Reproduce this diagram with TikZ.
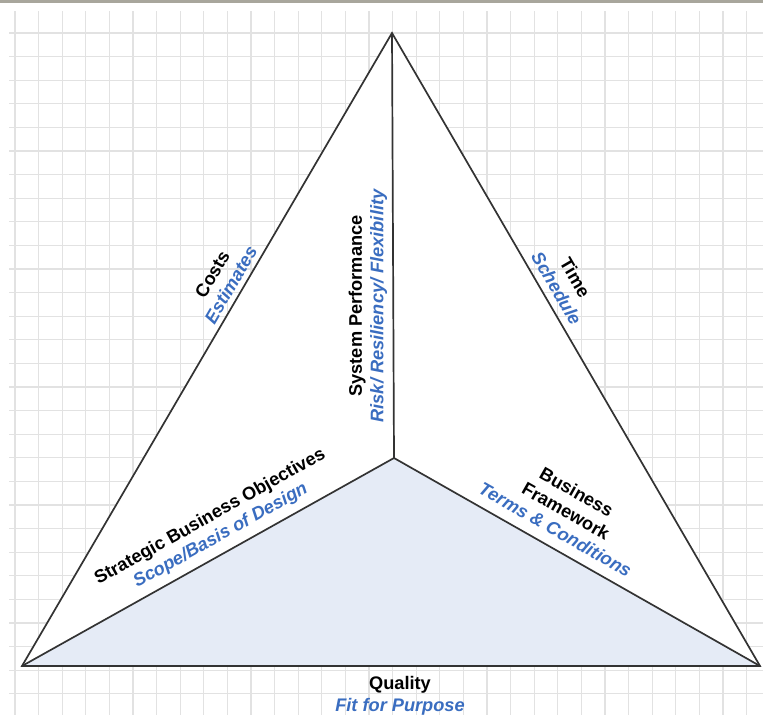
\documentclass[tikz,border=0pt]{standalone}
\usepackage{fontspec}
\setmainfont{Liberation Sans}
\definecolor{gridgray}{HTML}{E2E2E2}
\definecolor{edgeblk}{HTML}{333333}
\definecolor{lblblue}{HTML}{3A6DC0}
\definecolor{basefill}{HTML}{E5EBF6}
\definecolor{topbar}{HTML}{A8A69C}
\newcommand{\sublbl}[1]{\textcolor{lblblue}{\itshape #1}}
\tikzset{
  gridline/.style={draw=gridgray, line width=1.3pt},
  edge/.style={draw=edgeblk, line width=1.7pt, line join=miter},
  lbl/.style={font=\fontsize{18.2}{21.5}\selectfont\bfseries, align=center, inner sep=0pt, text=black},
}
\begin{document}
\begin{tikzpicture}[x=1pt,y=-1pt]
  \useasboundingbox (0,0) rectangle (763,715);
  \fill[white] (0,0) rectangle (763,715);
  \fill[topbar] (0,0) rectangle (763,3);
  % squared paper
  \foreach \i in {0,...,31}
    \draw[gridline] ({15+23.6*\i},11) -- ({15+23.6*\i},715);
  \foreach \j in {0,...,29}
    \draw[gridline] (9,{33+23.6*\j}) -- (763,{33+23.6*\j});
  % triangle corners and centre
  \coordinate (A) at (392,33);
  \coordinate (L) at (22,666);
  \coordinate (R) at (760,666);
  \coordinate (C) at (394,458);
  \fill[white] (A) -- (L) -- (R) -- cycle;
  \fill[basefill] (C) -- (L) -- (R) -- cycle;
  \draw[edge] (A) -- (L) -- (R) -- cycle;
  \draw[edge] (C) -- (A);
  \draw[edge] (C) -- (L);
  \draw[edge] (C) -- (R);
  % labels
  \node[lbl, rotate=59.7] (costs) at (221.5,279.5) {Costs\\\sublbl{Estimates}};
  \node[lbl, rotate=-59.8] (time) at (566,283) {Time\\\sublbl{Schedule}};
  \node[lbl, rotate=90] (sysperf) at (368,306) {System Performance\\\sublbl{Risk/ Resiliency/ Flexibility}};
  \node[lbl, rotate=29.2] (sbo) at (215.5,526.5) {Strategic Business Objectives\\\sublbl{Scope/Basis of Design}};
  \node[lbl, rotate=-29.6] (bframe) at (566,511) {Business\\Framework\\\sublbl{Terms \& Conditions}};
  \node[lbl] (quality) at (400,696) {Quality\\\sublbl{Fit for Purpose}};
\end{tikzpicture}
\end{document}
